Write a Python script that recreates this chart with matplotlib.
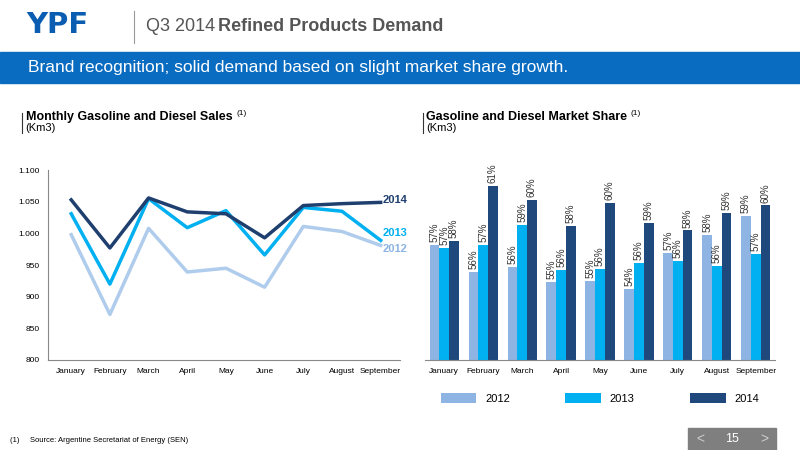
import matplotlib
matplotlib.use("Agg")
import matplotlib.pyplot as plt
import numpy as np

months = ["January", "February", "March", "April", "May", "June", "July", "August", "September"]

# Left chart: monthly sales (Km3)
sales_2012 = [998, 872, 1008, 939, 945, 915, 1011, 1003, 981]
sales_2013 = [1031, 920, 1055, 1009, 1036, 966, 1041, 1035, 989]
sales_2014 = [1053, 977, 1056, 1034, 1031, 993, 1044, 1047, 1049]

# Right chart: market share (%)
share_2012 = [57.0, 55.2, 55.5, 54.5, 54.6, 54.0, 56.5, 57.7, 59.0]
share_2013 = [56.8, 57.0, 58.4, 55.3, 55.4, 55.8, 55.9, 55.6, 56.4]
share_2014 = [57.3, 61.0, 60.1, 58.3, 59.9, 58.5, 58.0, 59.2, 59.7]
lab_2012 = ["57%", "56%", "56%", "55%", "55%", "54%", "57%", "58%", "59%"]
lab_2013 = ["57%", "57%", "59%", "56%", "56%", "56%", "56%", "56%", "57%"]
lab_2014 = ["58%", "61%", "60%", "58%", "60%", "59%", "58%", "59%", "60%"]

c12, c13, c14 = "#8DB4E2", "#00B0F0", "#1F497D"
c12_line, c13_line, c14_line = "#B0CCEC", "#00B0F0", "#1F3F6F"

plt.rcParams["font.family"] = ["Liberation Sans", "DejaVu Sans"]
fig = plt.figure(figsize=(8, 4.5), dpi=100)

# header
fig.text(0.033, 0.945, "YPF", fontsize=21, fontweight="heavy", color="#0A5DB0", va="center",
         family="DejaVu Sans")
fig.add_artist(plt.Line2D([0.168, 0.168], [0.905, 0.975], color="#999999", lw=0.8))
fig.text(0.182, 0.942, "Q3 2014", fontsize=13, color="#555555", va="center")
fig.text(0.272, 0.942, "Refined Products Demand", fontsize=13, fontweight="bold", color="#555555", va="center")
fig.patches.append(plt.Rectangle((0, 0.815), 1, 0.07, transform=fig.transFigure, color="#0A6CC0"))
fig.text(0.035, 0.85, "Brand recognition; solid demand based on slight market share growth.",
         fontsize=12.5, color="white", va="center")

# subtitles
fig.add_artist(plt.Line2D([0.028, 0.028], [0.705, 0.75], color="#333333", lw=0.8))
fig.text(0.032, 0.74, "Monthly Gasoline and Diesel Sales", fontsize=9, fontweight="bold", va="center")
fig.text(0.296, 0.748, "(1)", fontsize=6, va="center")
fig.text(0.032, 0.715, "(Km3)", fontsize=8, va="center")
fig.add_artist(plt.Line2D([0.529, 0.529], [0.705, 0.75], color="#333333", lw=0.8))
fig.text(0.533, 0.74, "Gasoline and Diesel Market Share", fontsize=9, fontweight="bold", va="center")
fig.text(0.788, 0.748, "(1)", fontsize=6, va="center")
fig.text(0.533, 0.715, "(Km3)", fontsize=8, va="center")

# left line chart
ax = fig.add_axes([0.06, 0.2, 0.44, 0.422])
x = np.arange(len(months))
ax.plot(x, sales_2012, color=c12_line, lw=2.5)
ax.plot(x, sales_2013, color=c13_line, lw=2.5)
ax.plot(x, sales_2014, color=c14_line, lw=2.5)
ax.text(x[-1] + 0.05, 1053, "2014", color=c14_line, fontsize=8, fontweight="bold", ha="left", va="center")
ax.text(x[-1] + 0.05, 1001, "2013", color=c13_line, fontsize=8, fontweight="bold", ha="left", va="center")
ax.text(x[-1] + 0.05, 975, "2012", color=c12, fontsize=8, fontweight="bold", ha="left", va="center")
ax.set_ylim(800, 1100)
ax.set_xlim(-0.6, len(months) - 0.5)
ax.set_yticks(range(800, 1101, 50))
ax.set_yticklabels([f"{v:,}".replace(",", ".") for v in range(800, 1101, 50)], fontsize=6)
ax.set_xticks(x)
ax.set_xticklabels(months, fontsize=6)
ax.tick_params(length=0, pad=6)
for s in ["top", "right"]:
    ax.spines[s].set_visible(False)
ax.spines["left"].set_color("#888888")
ax.spines["bottom"].set_color("#888888")

# right bar chart
ax2 = fig.add_axes([0.531, 0.2, 0.438, 0.435])
w = 0.25
for off, vals, labs, col, name in [(-w, share_2012, lab_2012, c12, "2012"),
                                   (0, share_2013, lab_2013, c13, "2013"),
                                   (w, share_2014, lab_2014, c14, "2014")]:
    bars = ax2.bar(x + off, vals, width=w, color=col, label=name)
    for b, l in zip(bars, labs):
        ax2.text(b.get_x() + b.get_width() / 2, b.get_height() + 0.2, l, rotation=90,
                 ha="center", va="bottom", fontsize=7, color="#333333")
ax2.set_ylim(49.2, 62.5)
ax2.set_xlim(-0.5, len(months) - 0.5)
ax2.set_yticks([])
ax2.set_xticks(x)
ax2.set_xticklabels(months, fontsize=6)
ax2.tick_params(length=0, pad=6)
for s in ["top", "right", "left"]:
    ax2.spines[s].set_visible(False)
ax2.spines["bottom"].set_color("#888888")
ax2.legend(loc="upper center", bbox_to_anchor=(0.5, -0.12), ncol=3, frameon=False, fontsize=8,
           handlelength=3.2, handleheight=1.0, columnspacing=5)

# footer
fig.text(0.012, 0.022, "(1)     Source: Argentine Secretariat of Energy (SEN)", fontsize=5.5, va="center")
fig.patches.append(plt.Rectangle((0.86, 0.0), 0.11, 0.05, transform=fig.transFigure, color="#7F7F7F"))
fig.text(0.915, 0.025, "15", fontsize=9, color="white", ha="center", va="center")
fig.text(0.875, 0.025, "<", fontsize=10, color="#CCCCCC", ha="center", va="center")
fig.text(0.955, 0.025, ">", fontsize=10, color="#CCCCCC", ha="center", va="center")

fig.savefig("out.png", dpi=100)
